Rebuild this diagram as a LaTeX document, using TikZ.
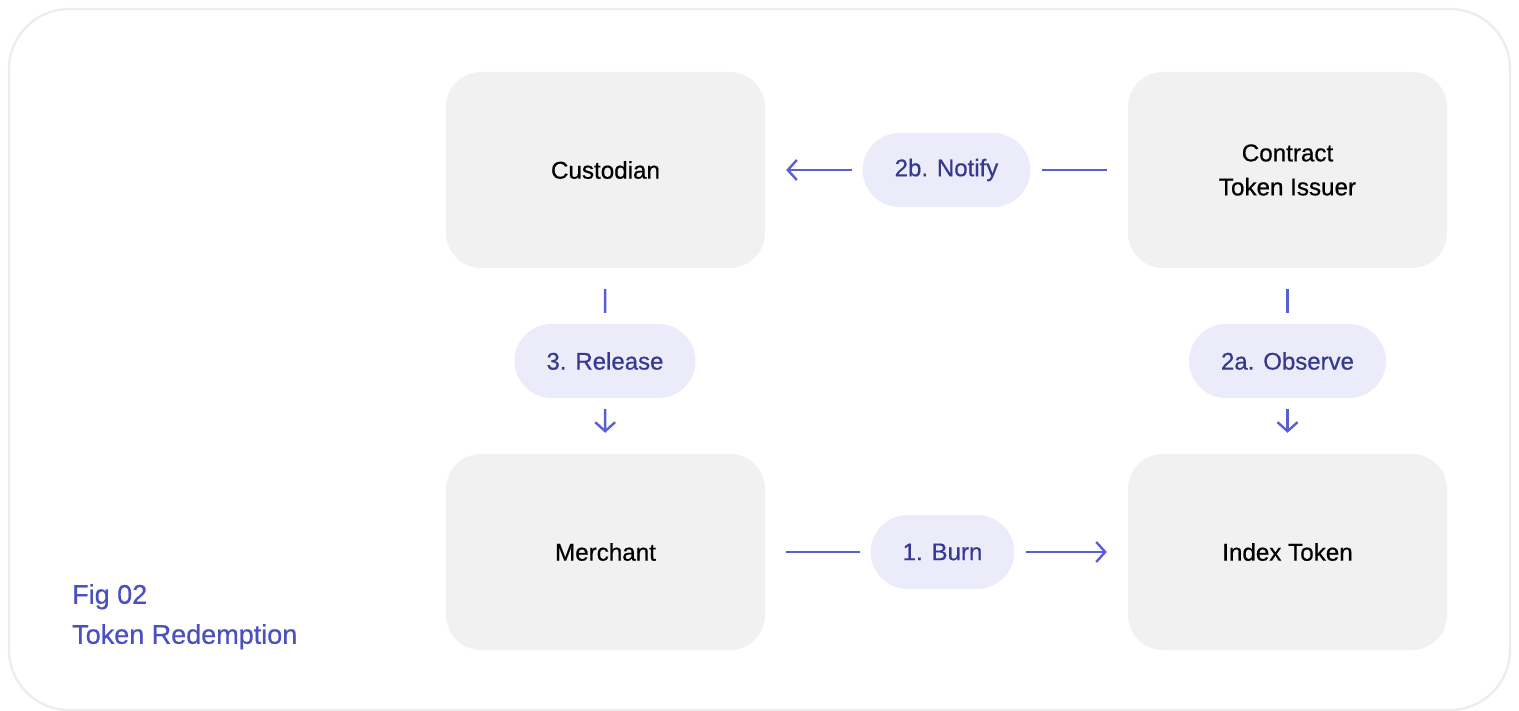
\documentclass[tikz,border=0pt]{standalone}
\usepackage{fontspec}
\setmainfont{Liberation Sans}[FakeBold=0.6]
\usetikzlibrary{arrows.meta}
\definecolor{boxgray}{HTML}{F1F1F1}
\definecolor{framegray}{HTML}{EDEDED}
\definecolor{pillfill}{HTML}{ECEBF9}
\definecolor{pilltext}{HTML}{363A8E}
\definecolor{flowblue}{HTML}{5A5ED3}
\definecolor{captionblue}{HTML}{4A50C0}
\tikzset{
	party/.style = {shape=rectangle, rounded corners=35pt,
		fill=boxgray, align=center, inner sep=0pt,
		minimum width=319pt, minimum height=196pt,
		font=\fontsize{24.2}{34}\selectfont},
	pill/.style  = {shape=rectangle, rounded corners=37pt,
		fill=pillfill, text=pilltext, inner xsep=32pt,
		minimum height=74pt, font=\fontsize{24}{26}\selectfont},
	flow/.style  = {draw=flowblue, line width=2.4pt,
		shorten <=21pt, shorten >=11pt},
	flowto/.style = {flow, shorten <=11pt, shorten >=21pt,
		-{Straight Barb[length=9pt,width=20pt,line width=2.4pt]}}
}
\begin{document}
\begin{tikzpicture}
	[
	x = 1pt,
	y = -1pt
	]
	\useasboundingbox (0,0) rectangle (1519,711);
	\draw [framegray, line width=2.4pt, rounded corners=60pt]
		(9,9) rectangle (1510,710);
	% the four parties
	\node [party] (custodian) at (605.5,170) {Custodian};
	\node [party] (issuer)    at (1287.5,170) {Contract\\Token Issuer};
	\node [party] (merchant)  at (605.5,552) {Merchant};
	\node [party] (index)     at (1287.5,552) {Index Token};
	% steps
	\node [pill] (notify)  at (946.5,170) {2b. Notify};
	\node [pill] (release) at (605,361) {3. Release};
	\node [pill] (observe) at (1287.5,361) {2a. Observe};
	\node [pill] (burn)    at (942.5,552) {1. Burn};
	\draw [flow]   (merchant) -- (burn);
	\draw [flowto] (burn) -- (index);
	\draw [flow]   (issuer) -- (observe);
	\draw [flowto] (observe) -- (index);
	\draw [flow]   (issuer) -- (notify);
	\draw [flowto] (notify) -- (custodian);
	\draw [flow]   (custodian) -- (release);
	\draw [flowto] (release) -- (merchant);
	\node [text=captionblue, align=left, anchor=north west, inner sep=0pt,
		font=\fontsize{27}{40}\selectfont] (caption) at (72,584)
		{Fig 02\\Token Redemption};
\end{tikzpicture}
\end{document}
